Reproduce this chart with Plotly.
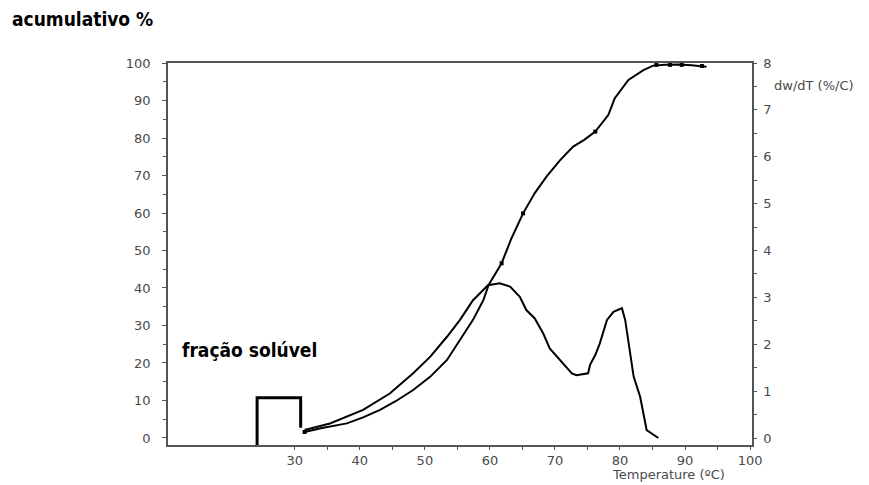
import plotly.graph_objects as go

# ---- data ----
cum_T = [31.5, 34, 38, 40.5, 43.1, 45.5, 48.2, 50.8, 53.4, 55.4, 57.4, 59.0, 59.8,
         61.8, 63.3, 65.1, 66.9, 68.7, 70.8, 72.8, 74.5, 76.2, 78.2, 79.2, 81.3,
         83.6, 85.1, 87, 89, 91, 93.3]
cum_val = [1.6, 2.6, 3.9, 5.5, 7.5, 9.8, 12.8, 16.3, 20.8, 26.1, 31.5, 36.8, 40.8,
           46.6, 53.2, 59.9, 65.3, 69.7, 74.1, 77.7, 79.5, 81.7, 86.1, 90.6, 95.5,
           98.1, 99.3, 99.5, 99.6, 99.4, 99.0]
cum_mark_T = [31.5, 61.8, 65.1, 76.2, 85.6, 87.7, 89.5, 92.6]
cum_mark_val = [1.6, 46.6, 59.9, 81.7, 99.5, 99.5, 99.5, 99.2]

dw_T = [31.5, 35.4, 40.5, 44.6, 48.2, 50.8, 53.4, 55.4, 57.4, 59.7, 61.5, 63.1,
        64.6, 65.6, 66.9, 68.2, 69.2, 70.8, 72.6, 73.3, 75.1, 75.4, 76.2, 76.9,
        77.4, 78.0, 79.0, 80.3, 80.8, 81.3, 82.1, 83.1, 83.6, 84.1, 85.9]
dw_val = [0.17, 0.31, 0.60, 0.95, 1.38, 1.73, 2.16, 2.52, 2.94, 3.26, 3.30, 3.23,
          3.01, 2.73, 2.55, 2.23, 1.91, 1.66, 1.38, 1.34, 1.38, 1.56, 1.77, 2.02,
          2.27, 2.52, 2.69, 2.77, 2.52, 2.09, 1.31, 0.88, 0.53, 0.17, 0.0]

sol_T = [24.2, 24.2, 30.9, 30.9]
sol_val = [-1.87, 10.7, 10.7, 2.7]

x_ticks = [30, 40, 50, 60, 70, 80, 90, 100]
x_minor = [35, 45, 55, 65, 75, 85, 95]
y_left_ticks = [0, 10, 20, 30, 40, 50, 60, 70, 80, 90, 100]
y_right_ticks = [0, 1, 2, 3, 4, 5, 6, 7, 8]

AX = "#555555"
TICKFONT = dict(family="DejaVu Sans", size=13, color="#4a4a4a")
LABELFONT = dict(family="DejaVu Sans", size=13, color="#4a4a4a")
BOLDFONT = "DejaVu Sans Condensed, Liberation Sans Narrow"

fig = go.Figure()
fig.add_trace(go.Scatter(x=sol_T, y=sol_val, mode="lines",
                         line=dict(color="black", width=3), yaxis="y", showlegend=False))
fig.add_trace(go.Scatter(x=cum_T, y=cum_val, mode="lines",
                         line=dict(color="black", width=2), yaxis="y", showlegend=False))
fig.add_trace(go.Scatter(x=cum_mark_T, y=cum_mark_val, mode="markers",
                         marker=dict(color="black", size=4, symbol="square"),
                         yaxis="y", showlegend=False))
fig.add_trace(go.Scatter(x=dw_T, y=dw_val, mode="lines",
                         line=dict(color="black", width=2), yaxis="y2", showlegend=False))

fig.update_layout(
    width=869, height=485,
    margin=dict(l=168, r=117, t=63, b=40),
    paper_bgcolor="white", plot_bgcolor="white",
    xaxis=dict(range=[10.5, 100.3], tickvals=x_ticks, ticks="outside", ticklen=3,
               tickcolor=AX, showgrid=False, zeroline=False, showline=True,
               linecolor=AX, linewidth=1.5, mirror=True, tickfont=TICKFONT,
               ticklabelstandoff=0,
               minor=dict(tickvals=x_minor, ticks="outside", ticklen=3, tickcolor=AX)),
    yaxis=dict(range=[-1.87, 100], tickvals=y_left_ticks, ticks="outside", ticklen=4,
               tickcolor=AX, showgrid=False, zeroline=False, showline=True,
               linecolor=AX, linewidth=1.5, tickfont=TICKFONT, ticklabelstandoff=9,
               minor=dict(dtick=5, ticks="outside", ticklen=3, tickcolor=AX)),
    yaxis2=dict(range=[-0.149, 8], tickvals=y_right_ticks, overlaying="y", side="right",
                ticks="outside", ticklen=3, tickcolor=AX, showgrid=False, zeroline=False,
                showline=True, linecolor=AX, linewidth=1.5, tickfont=TICKFONT,
                ticklabelstandoff=4,
                minor=dict(dtick=0.5, ticks="outside", ticklen=3, tickcolor=AX)),
    annotations=[
        dict(text="<b>acumulativo %</b>", xref="paper", yref="paper",
             x=(10 - 168) / 584, y=(445 - 19) / 382, xanchor="left", yanchor="middle",
             showarrow=False, font=dict(family=BOLDFONT, size=19, color="black")),
        dict(text="<b>fração solúvel</b>", xref="x", yref="y",
             x=12.4, y=23.5, xanchor="left", yanchor="middle", showarrow=False,
             font=dict(family=BOLDFONT, size=19, color="black")),
        dict(text="dw/dT (%/C)", xref="paper", yref="paper",
             x=(772 - 168) / 584, y=(445 - 85) / 382, xanchor="left", yanchor="middle",
             showarrow=False, font=LABELFONT),
        dict(text="Temperature (ºC)", xref="paper", yref="paper",
             x=(668 - 168) / 584, y=(445 - 484) / 382, xanchor="center", yanchor="bottom",
             showarrow=False, font=LABELFONT),
    ],
)

fig.write_html("out.html")
